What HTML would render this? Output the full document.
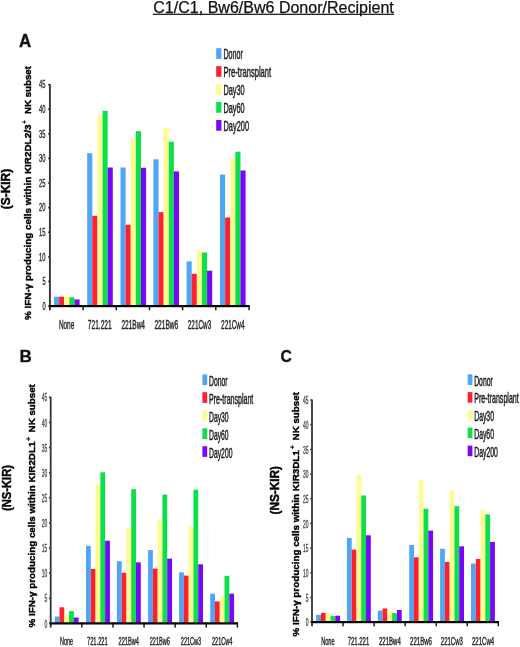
<!DOCTYPE html>
<html lang="en">
<head>
<meta charset="utf-8">
<title>C1/C1, Bw6/Bw6 Donor/Recipient</title>
<style>
html, body { margin: 0; padding: 0; background: #ffffff; }
body { width: 520px; height: 647px; overflow: hidden; }
svg { display: block; font-family: "Liberation Sans", sans-serif; }
svg rect { shape-rendering: geometricPrecision; }
.soft { filter: blur(0.35px); }
</style>
</head>
<body>
<svg width="520" height="647" viewBox="0 0 520 647" role="img" aria-label="Figure">
<rect x="0" y="0" width="520" height="647" fill="#ffffff"/>
<g class="soft">
<g class="chart" id="chart-a">
<rect x="54" y="296.7" width="5.12" height="8.8" fill="#4fa6f4"/>
<rect x="59.12" y="296.7" width="5.12" height="8.8" fill="#ff1f2d"/>
<rect x="64.24" y="296.5" width="5.12" height="9" fill="#fffb90"/>
<rect x="69.36" y="297.3" width="5.12" height="8.2" fill="#0be04a"/>
<rect x="74.48" y="299.4" width="5.12" height="6.1" fill="#7a05fb"/>
<rect x="87.2" y="153.2" width="5.12" height="152.3" fill="#4fa6f4"/>
<rect x="92.32" y="215.8" width="5.12" height="89.7" fill="#ff1f2d"/>
<rect x="97.44" y="115.2" width="5.12" height="190.3" fill="#fffb90"/>
<rect x="102.56" y="110.8" width="5.12" height="194.7" fill="#0be04a"/>
<rect x="107.68" y="167.5" width="5.12" height="138" fill="#7a05fb"/>
<rect x="120.5" y="167.5" width="5.12" height="138" fill="#4fa6f4"/>
<rect x="125.62" y="224.8" width="5.12" height="80.7" fill="#ff1f2d"/>
<rect x="130.74" y="138.4" width="5.12" height="167.1" fill="#fffb90"/>
<rect x="135.86" y="131.2" width="5.12" height="174.3" fill="#0be04a"/>
<rect x="140.98" y="167.8" width="5.12" height="137.7" fill="#7a05fb"/>
<rect x="153.4" y="159.3" width="5.12" height="146.2" fill="#4fa6f4"/>
<rect x="158.52" y="212.1" width="5.12" height="93.4" fill="#ff1f2d"/>
<rect x="163.64" y="128" width="5.12" height="177.5" fill="#fffb90"/>
<rect x="168.76" y="141.7" width="5.12" height="163.8" fill="#0be04a"/>
<rect x="173.88" y="171.4" width="5.12" height="134.1" fill="#7a05fb"/>
<rect x="186.6" y="261.4" width="5.12" height="44.1" fill="#4fa6f4"/>
<rect x="191.72" y="273.8" width="5.12" height="31.7" fill="#ff1f2d"/>
<rect x="196.84" y="250.8" width="5.12" height="54.7" fill="#fffb90"/>
<rect x="201.96" y="252.5" width="5.12" height="53" fill="#0be04a"/>
<rect x="207.08" y="270.7" width="5.12" height="34.8" fill="#7a05fb"/>
<rect x="220" y="174.6" width="5.12" height="130.9" fill="#4fa6f4"/>
<rect x="225.12" y="217.5" width="5.12" height="88" fill="#ff1f2d"/>
<rect x="230.24" y="158.4" width="5.12" height="147.1" fill="#fffb90"/>
<rect x="235.36" y="151.7" width="5.12" height="153.8" fill="#0be04a"/>
<rect x="240.48" y="170.5" width="5.12" height="135" fill="#7a05fb"/>
<rect x="48.95" y="84.1" width="1.9" height="226.2" fill="#34343a"/>
<rect x="48.95" y="305" width="200.65" height="2.2" fill="#000"/>
<rect x="82.38" y="305" width="1.4" height="5.3" fill="#111"/>
<rect x="115.57" y="305" width="1.4" height="5.3" fill="#111"/>
<rect x="148.75" y="305" width="1.4" height="5.3" fill="#111"/>
<rect x="181.93" y="305" width="1.4" height="5.3" fill="#111"/>
<rect x="215.12" y="305" width="1.4" height="5.3" fill="#111"/>
<rect x="248.3" y="305" width="1.4" height="5.3" fill="#111"/>
<rect x="48.15" y="83.8" width="1.4" height="1.6" fill="#333"/>
<text x="39.1" y="88.38" font-size="10.5" text-anchor="start" fill="#2a2a2a" stroke="#2a2a2a" stroke-width="0.35" textLength="6.5" lengthAdjust="spacingAndGlyphs">45</text>
<rect x="48.15" y="108.41" width="1.4" height="1.6" fill="#333"/>
<text x="39.1" y="112.99" font-size="10.5" text-anchor="start" fill="#2a2a2a" stroke="#2a2a2a" stroke-width="0.35" textLength="6.5" lengthAdjust="spacingAndGlyphs">40</text>
<rect x="48.15" y="133.02" width="1.4" height="1.6" fill="#333"/>
<text x="39.1" y="137.6" font-size="10.5" text-anchor="start" fill="#2a2a2a" stroke="#2a2a2a" stroke-width="0.35" textLength="6.5" lengthAdjust="spacingAndGlyphs">35</text>
<rect x="48.15" y="157.63" width="1.4" height="1.6" fill="#333"/>
<text x="39.1" y="162.21" font-size="10.5" text-anchor="start" fill="#2a2a2a" stroke="#2a2a2a" stroke-width="0.35" textLength="6.5" lengthAdjust="spacingAndGlyphs">30</text>
<rect x="48.15" y="182.24" width="1.4" height="1.6" fill="#333"/>
<text x="39.1" y="186.82" font-size="10.5" text-anchor="start" fill="#2a2a2a" stroke="#2a2a2a" stroke-width="0.35" textLength="6.5" lengthAdjust="spacingAndGlyphs">25</text>
<rect x="48.15" y="206.85" width="1.4" height="1.6" fill="#333"/>
<text x="39.1" y="211.43" font-size="10.5" text-anchor="start" fill="#2a2a2a" stroke="#2a2a2a" stroke-width="0.35" textLength="6.5" lengthAdjust="spacingAndGlyphs">20</text>
<rect x="48.15" y="231.46" width="1.4" height="1.6" fill="#333"/>
<text x="39.1" y="236.04" font-size="10.5" text-anchor="start" fill="#2a2a2a" stroke="#2a2a2a" stroke-width="0.35" textLength="6.5" lengthAdjust="spacingAndGlyphs">15</text>
<rect x="48.15" y="256.07" width="1.4" height="1.6" fill="#333"/>
<text x="39.1" y="260.65" font-size="10.5" text-anchor="start" fill="#2a2a2a" stroke="#2a2a2a" stroke-width="0.35" textLength="6.5" lengthAdjust="spacingAndGlyphs">10</text>
<rect x="48.15" y="280.68" width="1.4" height="1.6" fill="#333"/>
<text x="42.4" y="285.26" font-size="10.5" text-anchor="start" fill="#2a2a2a" stroke="#2a2a2a" stroke-width="0.35" textLength="3.2" lengthAdjust="spacingAndGlyphs">5</text>
<rect x="48.15" y="305.29" width="1.4" height="1.6" fill="#333"/>
<text x="42.4" y="309.87" font-size="10.5" text-anchor="start" fill="#2a2a2a" stroke="#2a2a2a" stroke-width="0.35" textLength="3.2" lengthAdjust="spacingAndGlyphs">0</text>
<text x="58.9" y="329.4" font-size="12" text-anchor="start" fill="#2a2a2a" stroke="#2a2a2a" stroke-width="0.45" textLength="15.3" lengthAdjust="spacingAndGlyphs">None</text>
<text x="87.8" y="329.4" font-size="12" text-anchor="start" fill="#2a2a2a" stroke="#2a2a2a" stroke-width="0.45" textLength="23.9" lengthAdjust="spacingAndGlyphs">721.221</text>
<text x="121.4" y="329.4" font-size="12" text-anchor="start" fill="#2a2a2a" stroke="#2a2a2a" stroke-width="0.45" textLength="23.6" lengthAdjust="spacingAndGlyphs">221Bw4</text>
<text x="154.4" y="329.4" font-size="12" text-anchor="start" fill="#2a2a2a" stroke="#2a2a2a" stroke-width="0.45" textLength="23.9" lengthAdjust="spacingAndGlyphs">221Bw6</text>
<text x="187.8" y="329.4" font-size="12" text-anchor="start" fill="#2a2a2a" stroke="#2a2a2a" stroke-width="0.45" textLength="23.4" lengthAdjust="spacingAndGlyphs">221Cw3</text>
<text x="221.1" y="329.4" font-size="12" text-anchor="start" fill="#2a2a2a" stroke="#2a2a2a" stroke-width="0.45" textLength="23.4" lengthAdjust="spacingAndGlyphs">221Cw4</text>
<rect x="216.2" y="48.2" width="5.2" height="10.7" fill="#4fa6f4"/>
<text x="223.5" y="59.1" font-size="14.2" text-anchor="start" fill="#1c1c1c" stroke="#1c1c1c" stroke-width="0.5" textLength="19.3" lengthAdjust="spacingAndGlyphs">Donor</text>
<rect x="216.2" y="66.1" width="5.2" height="10.7" fill="#ff1f2d"/>
<text x="223.5" y="77" font-size="14.2" text-anchor="start" fill="#1c1c1c" stroke="#1c1c1c" stroke-width="0.5" textLength="47.6" lengthAdjust="spacingAndGlyphs">Pre-transplant</text>
<rect x="216.2" y="84.1" width="5.2" height="10.7" fill="#fffb90"/>
<text x="223.5" y="95" font-size="14.2" text-anchor="start" fill="#1c1c1c" stroke="#1c1c1c" stroke-width="0.5" textLength="21.2" lengthAdjust="spacingAndGlyphs">Day30</text>
<rect x="216.2" y="102" width="5.2" height="10.7" fill="#0be04a"/>
<text x="223.5" y="112.9" font-size="14.2" text-anchor="start" fill="#1c1c1c" stroke="#1c1c1c" stroke-width="0.5" textLength="21.2" lengthAdjust="spacingAndGlyphs">Day60</text>
<rect x="216.2" y="120" width="5.2" height="10.7" fill="#7a05fb"/>
<text x="223.5" y="130.9" font-size="14.2" text-anchor="start" fill="#1c1c1c" stroke="#1c1c1c" stroke-width="0.5" textLength="25.5" lengthAdjust="spacingAndGlyphs">Day200</text>
</g>
<g class="chart" id="chart-b">
<rect x="54.7" y="616.5" width="4.78" height="6.3" fill="#4fa6f4"/>
<rect x="59.48" y="607.3" width="4.78" height="15.5" fill="#ff1f2d"/>
<rect x="64.26" y="614.7" width="4.78" height="8.1" fill="#fffb90"/>
<rect x="69.04" y="611.1" width="4.78" height="11.7" fill="#0be04a"/>
<rect x="73.82" y="617.5" width="4.78" height="5.3" fill="#7a05fb"/>
<rect x="86" y="545.9" width="4.78" height="76.9" fill="#4fa6f4"/>
<rect x="90.78" y="568.9" width="4.78" height="53.9" fill="#ff1f2d"/>
<rect x="95.56" y="483.4" width="4.78" height="139.4" fill="#fffb90"/>
<rect x="100.34" y="472.3" width="4.78" height="150.5" fill="#0be04a"/>
<rect x="105.12" y="540.7" width="4.78" height="82.1" fill="#7a05fb"/>
<rect x="116.9" y="561.2" width="4.78" height="61.6" fill="#4fa6f4"/>
<rect x="121.68" y="572.8" width="4.78" height="50" fill="#ff1f2d"/>
<rect x="126.46" y="527.7" width="4.78" height="95.1" fill="#fffb90"/>
<rect x="131.24" y="489.2" width="4.78" height="133.6" fill="#0be04a"/>
<rect x="136.02" y="562.4" width="4.78" height="60.4" fill="#7a05fb"/>
<rect x="148.1" y="550" width="4.78" height="72.8" fill="#4fa6f4"/>
<rect x="152.88" y="568.6" width="4.78" height="54.2" fill="#ff1f2d"/>
<rect x="157.66" y="520" width="4.78" height="102.8" fill="#fffb90"/>
<rect x="162.44" y="494.6" width="4.78" height="128.2" fill="#0be04a"/>
<rect x="167.22" y="558.6" width="4.78" height="64.2" fill="#7a05fb"/>
<rect x="179.1" y="572.3" width="4.78" height="50.5" fill="#4fa6f4"/>
<rect x="183.88" y="575.6" width="4.78" height="47.2" fill="#ff1f2d"/>
<rect x="188.66" y="526.7" width="4.78" height="96.1" fill="#fffb90"/>
<rect x="193.44" y="489.7" width="4.78" height="133.1" fill="#0be04a"/>
<rect x="198.22" y="564.3" width="4.78" height="58.5" fill="#7a05fb"/>
<rect x="210.2" y="593.7" width="4.78" height="29.1" fill="#4fa6f4"/>
<rect x="214.98" y="601.4" width="4.78" height="21.4" fill="#ff1f2d"/>
<rect x="219.76" y="596.5" width="4.78" height="26.3" fill="#fffb90"/>
<rect x="224.54" y="575.9" width="4.78" height="46.9" fill="#0be04a"/>
<rect x="229.32" y="593.7" width="4.78" height="29.1" fill="#7a05fb"/>
<rect x="49.8" y="396.8" width="1.8" height="230.8" fill="#34343a"/>
<rect x="49.8" y="622.3" width="188.2" height="2.2" fill="#000"/>
<rect x="81.12" y="622.3" width="1.4" height="5.3" fill="#111"/>
<rect x="112.23" y="622.3" width="1.4" height="5.3" fill="#111"/>
<rect x="143.35" y="622.3" width="1.4" height="5.3" fill="#111"/>
<rect x="174.47" y="622.3" width="1.4" height="5.3" fill="#111"/>
<rect x="205.58" y="622.3" width="1.4" height="5.3" fill="#111"/>
<rect x="236.7" y="622.3" width="1.4" height="5.3" fill="#111"/>
<rect x="49" y="396.5" width="1.4" height="1.6" fill="#333"/>
<text x="41.8" y="401.48" font-size="10.5" text-anchor="start" fill="#4a4a4a" stroke="#4a4a4a" stroke-width="0.35" textLength="5.5" lengthAdjust="spacingAndGlyphs">45</text>
<rect x="49" y="421.62" width="1.4" height="1.6" fill="#333"/>
<text x="41.8" y="426.6" font-size="10.5" text-anchor="start" fill="#4a4a4a" stroke="#4a4a4a" stroke-width="0.35" textLength="5.5" lengthAdjust="spacingAndGlyphs">40</text>
<rect x="49" y="446.74" width="1.4" height="1.6" fill="#333"/>
<text x="41.8" y="451.72" font-size="10.5" text-anchor="start" fill="#4a4a4a" stroke="#4a4a4a" stroke-width="0.35" textLength="5.5" lengthAdjust="spacingAndGlyphs">35</text>
<rect x="49" y="471.86" width="1.4" height="1.6" fill="#333"/>
<text x="41.8" y="476.84" font-size="10.5" text-anchor="start" fill="#4a4a4a" stroke="#4a4a4a" stroke-width="0.35" textLength="5.5" lengthAdjust="spacingAndGlyphs">30</text>
<rect x="49" y="496.98" width="1.4" height="1.6" fill="#333"/>
<text x="41.8" y="501.96" font-size="10.5" text-anchor="start" fill="#4a4a4a" stroke="#4a4a4a" stroke-width="0.35" textLength="5.5" lengthAdjust="spacingAndGlyphs">25</text>
<rect x="49" y="522.1" width="1.4" height="1.6" fill="#333"/>
<text x="41.8" y="527.08" font-size="10.5" text-anchor="start" fill="#4a4a4a" stroke="#4a4a4a" stroke-width="0.35" textLength="5.5" lengthAdjust="spacingAndGlyphs">20</text>
<rect x="49" y="547.22" width="1.4" height="1.6" fill="#333"/>
<text x="41.8" y="552.2" font-size="10.5" text-anchor="start" fill="#4a4a4a" stroke="#4a4a4a" stroke-width="0.35" textLength="5.5" lengthAdjust="spacingAndGlyphs">15</text>
<rect x="49" y="572.34" width="1.4" height="1.6" fill="#333"/>
<text x="41.8" y="577.32" font-size="10.5" text-anchor="start" fill="#4a4a4a" stroke="#4a4a4a" stroke-width="0.35" textLength="5.5" lengthAdjust="spacingAndGlyphs">10</text>
<rect x="49" y="597.46" width="1.4" height="1.6" fill="#333"/>
<text x="44.5" y="602.44" font-size="10.5" text-anchor="start" fill="#4a4a4a" stroke="#4a4a4a" stroke-width="0.35" textLength="2.8" lengthAdjust="spacingAndGlyphs">5</text>
<rect x="49" y="622.58" width="1.4" height="1.6" fill="#333"/>
<text x="44.5" y="627.56" font-size="10.5" text-anchor="start" fill="#4a4a4a" stroke="#4a4a4a" stroke-width="0.35" textLength="2.8" lengthAdjust="spacingAndGlyphs">0</text>
<text x="60" y="645.4" font-size="11.3" text-anchor="start" fill="#2a2a2a" stroke="#2a2a2a" stroke-width="0.45" textLength="13" lengthAdjust="spacingAndGlyphs">None</text>
<text x="87" y="645.4" font-size="11.3" text-anchor="start" fill="#2a2a2a" stroke="#2a2a2a" stroke-width="0.45" textLength="20.7" lengthAdjust="spacingAndGlyphs">721.221</text>
<text x="118.5" y="645.4" font-size="11.3" text-anchor="start" fill="#2a2a2a" stroke="#2a2a2a" stroke-width="0.45" textLength="20.4" lengthAdjust="spacingAndGlyphs">221Bw4</text>
<text x="149.7" y="645.4" font-size="11.3" text-anchor="start" fill="#2a2a2a" stroke="#2a2a2a" stroke-width="0.45" textLength="20.3" lengthAdjust="spacingAndGlyphs">221Bw6</text>
<text x="180.8" y="645.4" font-size="11.3" text-anchor="start" fill="#2a2a2a" stroke="#2a2a2a" stroke-width="0.45" textLength="20.4" lengthAdjust="spacingAndGlyphs">221Cw3</text>
<text x="212" y="645.4" font-size="11.3" text-anchor="start" fill="#2a2a2a" stroke="#2a2a2a" stroke-width="0.45" textLength="20.3" lengthAdjust="spacingAndGlyphs">221Cw4</text>
<rect x="202.4" y="374.4" width="4.8" height="10.7" fill="#4fa6f4"/>
<text x="209" y="385.7" font-size="14" text-anchor="start" fill="#1c1c1c" stroke="#1c1c1c" stroke-width="0.5" textLength="18.5" lengthAdjust="spacingAndGlyphs">Donor</text>
<rect x="202.4" y="392.2" width="4.8" height="10.7" fill="#ff1f2d"/>
<text x="209" y="403.5" font-size="14" text-anchor="start" fill="#1c1c1c" stroke="#1c1c1c" stroke-width="0.5" textLength="44.3" lengthAdjust="spacingAndGlyphs">Pre-transplant</text>
<rect x="202.4" y="410.4" width="4.8" height="10.7" fill="#fffb90"/>
<text x="209" y="421.7" font-size="14" text-anchor="start" fill="#1c1c1c" stroke="#1c1c1c" stroke-width="0.5" textLength="19.6" lengthAdjust="spacingAndGlyphs">Day30</text>
<rect x="202.4" y="428.3" width="4.8" height="10.7" fill="#0be04a"/>
<text x="209" y="439.6" font-size="14" text-anchor="start" fill="#1c1c1c" stroke="#1c1c1c" stroke-width="0.5" textLength="19.6" lengthAdjust="spacingAndGlyphs">Day60</text>
<rect x="202.4" y="446.2" width="4.8" height="10.7" fill="#7a05fb"/>
<text x="209" y="457.5" font-size="14" text-anchor="start" fill="#1c1c1c" stroke="#1c1c1c" stroke-width="0.5" textLength="23.5" lengthAdjust="spacingAndGlyphs">Day200</text>
</g>
<g class="chart" id="chart-c">
<rect x="316.2" y="614.9" width="4.78" height="6.6" fill="#4fa6f4"/>
<rect x="320.98" y="612.9" width="4.78" height="8.6" fill="#ff1f2d"/>
<rect x="325.76" y="613.5" width="4.78" height="8" fill="#fffb90"/>
<rect x="330.54" y="616.1" width="4.78" height="5.4" fill="#0be04a"/>
<rect x="335.32" y="615.7" width="4.78" height="5.8" fill="#7a05fb"/>
<rect x="346.9" y="538" width="4.78" height="83.5" fill="#4fa6f4"/>
<rect x="351.68" y="549.6" width="4.78" height="71.9" fill="#ff1f2d"/>
<rect x="356.46" y="475.2" width="4.78" height="146.3" fill="#fffb90"/>
<rect x="361.24" y="495.5" width="4.78" height="126" fill="#0be04a"/>
<rect x="366.02" y="535.3" width="4.78" height="86.2" fill="#7a05fb"/>
<rect x="377.8" y="610.6" width="4.78" height="10.9" fill="#4fa6f4"/>
<rect x="382.58" y="608.5" width="4.78" height="13" fill="#ff1f2d"/>
<rect x="387.36" y="610.5" width="4.78" height="11" fill="#fffb90"/>
<rect x="392.14" y="613.1" width="4.78" height="8.4" fill="#0be04a"/>
<rect x="396.92" y="610" width="4.78" height="11.5" fill="#7a05fb"/>
<rect x="409.2" y="545" width="4.78" height="76.5" fill="#4fa6f4"/>
<rect x="413.98" y="557.3" width="4.78" height="64.2" fill="#ff1f2d"/>
<rect x="418.76" y="480.5" width="4.78" height="141" fill="#fffb90"/>
<rect x="423.54" y="508.7" width="4.78" height="112.8" fill="#0be04a"/>
<rect x="428.32" y="530.6" width="4.78" height="90.9" fill="#7a05fb"/>
<rect x="440.1" y="548.8" width="4.78" height="72.7" fill="#4fa6f4"/>
<rect x="444.88" y="562" width="4.78" height="59.5" fill="#ff1f2d"/>
<rect x="449.66" y="490.6" width="4.78" height="130.9" fill="#fffb90"/>
<rect x="454.44" y="506.2" width="4.78" height="115.3" fill="#0be04a"/>
<rect x="459.22" y="546.3" width="4.78" height="75.2" fill="#7a05fb"/>
<rect x="471" y="563.5" width="4.78" height="58" fill="#4fa6f4"/>
<rect x="475.78" y="558.9" width="4.78" height="62.6" fill="#ff1f2d"/>
<rect x="480.56" y="509.6" width="4.78" height="111.9" fill="#fffb90"/>
<rect x="485.34" y="514.4" width="4.78" height="107.1" fill="#0be04a"/>
<rect x="490.12" y="541.9" width="4.78" height="79.6" fill="#7a05fb"/>
<rect x="311.1" y="399.5" width="1.8" height="226.8" fill="#34343a"/>
<rect x="311.1" y="621" width="187.8" height="2.2" fill="#000"/>
<rect x="342.35" y="621" width="1.4" height="5.3" fill="#111"/>
<rect x="373.4" y="621" width="1.4" height="5.3" fill="#111"/>
<rect x="404.45" y="621" width="1.4" height="5.3" fill="#111"/>
<rect x="435.5" y="621" width="1.4" height="5.3" fill="#111"/>
<rect x="466.55" y="621" width="1.4" height="5.3" fill="#111"/>
<rect x="497.6" y="621" width="1.4" height="5.3" fill="#111"/>
<rect x="310.3" y="399.2" width="1.4" height="1.6" fill="#333"/>
<text x="303" y="404.18" font-size="10.5" text-anchor="start" fill="#4a4a4a" stroke="#4a4a4a" stroke-width="0.35" textLength="5.5" lengthAdjust="spacingAndGlyphs">45</text>
<rect x="310.3" y="423.88" width="1.4" height="1.6" fill="#333"/>
<text x="303" y="428.86" font-size="10.5" text-anchor="start" fill="#4a4a4a" stroke="#4a4a4a" stroke-width="0.35" textLength="5.5" lengthAdjust="spacingAndGlyphs">40</text>
<rect x="310.3" y="448.56" width="1.4" height="1.6" fill="#333"/>
<text x="303" y="453.54" font-size="10.5" text-anchor="start" fill="#4a4a4a" stroke="#4a4a4a" stroke-width="0.35" textLength="5.5" lengthAdjust="spacingAndGlyphs">35</text>
<rect x="310.3" y="473.24" width="1.4" height="1.6" fill="#333"/>
<text x="303" y="478.22" font-size="10.5" text-anchor="start" fill="#4a4a4a" stroke="#4a4a4a" stroke-width="0.35" textLength="5.5" lengthAdjust="spacingAndGlyphs">30</text>
<rect x="310.3" y="497.92" width="1.4" height="1.6" fill="#333"/>
<text x="303" y="502.9" font-size="10.5" text-anchor="start" fill="#4a4a4a" stroke="#4a4a4a" stroke-width="0.35" textLength="5.5" lengthAdjust="spacingAndGlyphs">25</text>
<rect x="310.3" y="522.6" width="1.4" height="1.6" fill="#333"/>
<text x="303" y="527.58" font-size="10.5" text-anchor="start" fill="#4a4a4a" stroke="#4a4a4a" stroke-width="0.35" textLength="5.5" lengthAdjust="spacingAndGlyphs">20</text>
<rect x="310.3" y="547.28" width="1.4" height="1.6" fill="#333"/>
<text x="303" y="552.26" font-size="10.5" text-anchor="start" fill="#4a4a4a" stroke="#4a4a4a" stroke-width="0.35" textLength="5.5" lengthAdjust="spacingAndGlyphs">15</text>
<rect x="310.3" y="571.96" width="1.4" height="1.6" fill="#333"/>
<text x="303" y="576.94" font-size="10.5" text-anchor="start" fill="#4a4a4a" stroke="#4a4a4a" stroke-width="0.35" textLength="5.5" lengthAdjust="spacingAndGlyphs">10</text>
<rect x="310.3" y="596.64" width="1.4" height="1.6" fill="#333"/>
<text x="305.7" y="601.62" font-size="10.5" text-anchor="start" fill="#4a4a4a" stroke="#4a4a4a" stroke-width="0.35" textLength="2.8" lengthAdjust="spacingAndGlyphs">5</text>
<rect x="310.3" y="621.32" width="1.4" height="1.6" fill="#333"/>
<text x="305.7" y="626.3" font-size="10.5" text-anchor="start" fill="#4a4a4a" stroke="#4a4a4a" stroke-width="0.35" textLength="2.8" lengthAdjust="spacingAndGlyphs">0</text>
<text x="321.2" y="645.4" font-size="11.3" text-anchor="start" fill="#2a2a2a" stroke="#2a2a2a" stroke-width="0.45" textLength="13.4" lengthAdjust="spacingAndGlyphs">None</text>
<text x="347.7" y="645.4" font-size="11.3" text-anchor="start" fill="#2a2a2a" stroke="#2a2a2a" stroke-width="0.45" textLength="21.5" lengthAdjust="spacingAndGlyphs">721.221</text>
<text x="378.9" y="645.4" font-size="11.3" text-anchor="start" fill="#2a2a2a" stroke="#2a2a2a" stroke-width="0.45" textLength="21.9" lengthAdjust="spacingAndGlyphs">221Bw4</text>
<text x="410" y="645.4" font-size="11.3" text-anchor="start" fill="#2a2a2a" stroke="#2a2a2a" stroke-width="0.45" textLength="22" lengthAdjust="spacingAndGlyphs">221Bw6</text>
<text x="440.8" y="645.4" font-size="11.3" text-anchor="start" fill="#2a2a2a" stroke="#2a2a2a" stroke-width="0.45" textLength="22" lengthAdjust="spacingAndGlyphs">221Cw3</text>
<text x="472" y="645.4" font-size="11.3" text-anchor="start" fill="#2a2a2a" stroke="#2a2a2a" stroke-width="0.45" textLength="22.2" lengthAdjust="spacingAndGlyphs">221Cw4</text>
<rect x="467.7" y="374.3" width="4.7" height="10.6" fill="#4fa6f4"/>
<text x="474.2" y="385.5" font-size="14" text-anchor="start" fill="#1c1c1c" stroke="#1c1c1c" stroke-width="0.5" textLength="18.6" lengthAdjust="spacingAndGlyphs">Donor</text>
<rect x="467.7" y="392.1" width="4.7" height="10.6" fill="#ff1f2d"/>
<text x="474.2" y="403.3" font-size="14" text-anchor="start" fill="#1c1c1c" stroke="#1c1c1c" stroke-width="0.5" textLength="44.6" lengthAdjust="spacingAndGlyphs">Pre-transplant</text>
<rect x="467.7" y="410" width="4.7" height="10.6" fill="#fffb90"/>
<text x="474.2" y="421.2" font-size="14" text-anchor="start" fill="#1c1c1c" stroke="#1c1c1c" stroke-width="0.5" textLength="19.8" lengthAdjust="spacingAndGlyphs">Day30</text>
<rect x="467.7" y="427.6" width="4.7" height="10.6" fill="#0be04a"/>
<text x="474.2" y="438.8" font-size="14" text-anchor="start" fill="#1c1c1c" stroke="#1c1c1c" stroke-width="0.5" textLength="19.8" lengthAdjust="spacingAndGlyphs">Day60</text>
<rect x="467.7" y="445.6" width="4.7" height="10.6" fill="#7a05fb"/>
<text x="474.2" y="456.8" font-size="14" text-anchor="start" fill="#1c1c1c" stroke="#1c1c1c" stroke-width="0.5" textLength="23.7" lengthAdjust="spacingAndGlyphs">Day200</text>
</g>
<text x="153.3" y="12.6" font-size="16" text-anchor="start" fill="#111" stroke="#111" stroke-width="0.25" textLength="240.5" lengthAdjust="spacingAndGlyphs">C1/C1, Bw6/Bw6 Donor/Recipient</text>
<rect x="152.8" y="13.7" width="241.2" height="1.2" fill="#111"/>
<text x="19" y="46.7" font-size="18" text-anchor="start" font-weight="bold" fill="#111" stroke="#111" stroke-width="0.4" textLength="12.2" lengthAdjust="spacingAndGlyphs">A</text>
<text x="19.6" y="361.9" font-size="17" text-anchor="start" font-weight="bold" fill="#111" stroke="#111" stroke-width="0.3">B</text>
<text x="280.6" y="361.9" font-size="17" text-anchor="start" font-weight="bold" fill="#111" stroke="#111" stroke-width="0.3" textLength="11.4" lengthAdjust="spacingAndGlyphs">C</text>
<g class="ylabel" id="ylabel-a">
<text transform="translate(30.8 320) rotate(-90)" font-size="9.9" font-weight="bold" fill="#000" stroke="#000" stroke-width="0.4" textLength="195.4" lengthAdjust="spacingAndGlyphs">% IFN-γ producing cells within KIR2DL2/3</text>
<text transform="translate(27.2 123.8) rotate(-90)" font-size="6.5" font-weight="bold" fill="#000" stroke="#000" stroke-width="0.2" textLength="3.5" lengthAdjust="spacingAndGlyphs">+</text>
<text transform="translate(30.8 114.1) rotate(-90)" font-size="9.9" font-weight="bold" fill="#000" stroke="#000" stroke-width="0.4" textLength="48.1" lengthAdjust="spacingAndGlyphs">NK subset</text>
<text transform="translate(10 209.2) rotate(-90)" font-size="12" font-weight="bold" fill="#000" stroke="#000" stroke-width="0.4" textLength="40.4" lengthAdjust="spacingAndGlyphs">(S-KIR)</text>
</g>
<g class="ylabel" id="ylabel-b">
<text transform="translate(35.3 627.5) rotate(-90)" font-size="9.9" font-weight="bold" fill="#000" stroke="#000" stroke-width="0.4" textLength="185.9" lengthAdjust="spacingAndGlyphs">% IFN-γ producing cells within KIR2DL1</text>
<text transform="translate(31.2 441) rotate(-90)" font-size="6.5" font-weight="bold" fill="#000" stroke="#000" stroke-width="0.2" textLength="4.2" lengthAdjust="spacingAndGlyphs">+</text>
<text transform="translate(35.3 432.4) rotate(-90)" font-size="9.9" font-weight="bold" fill="#000" stroke="#000" stroke-width="0.4" textLength="48.2" lengthAdjust="spacingAndGlyphs">NK subset</text>
<text transform="translate(11.2 511) rotate(-90)" font-size="12.5" font-weight="bold" fill="#000" stroke="#000" stroke-width="0.4" textLength="46" lengthAdjust="spacingAndGlyphs">(NS-KIR)</text>
</g>
<g class="ylabel" id="ylabel-c">
<text transform="translate(299.4 636.4) rotate(-90)" font-size="9.9" font-weight="bold" fill="#000" stroke="#000" stroke-width="0.4" textLength="186.2" lengthAdjust="spacingAndGlyphs">% IFN-γ producing cells within KIR3DL1</text>
<text transform="translate(295 449.3) rotate(-90)" font-size="6.5" font-weight="bold" fill="#000" stroke="#000" stroke-width="0.2" textLength="4.1" lengthAdjust="spacingAndGlyphs">+</text>
<text transform="translate(299.4 440.4) rotate(-90)" font-size="9.9" font-weight="bold" fill="#000" stroke="#000" stroke-width="0.4" textLength="48.3" lengthAdjust="spacingAndGlyphs">NK subset</text>
<text transform="translate(279.2 514.5) rotate(-90)" font-size="12" font-weight="bold" fill="#000" stroke="#000" stroke-width="0.4" textLength="48.5" lengthAdjust="spacingAndGlyphs">(NS-KIR)</text>
</g>
</g>
</svg>
</body>
</html>
